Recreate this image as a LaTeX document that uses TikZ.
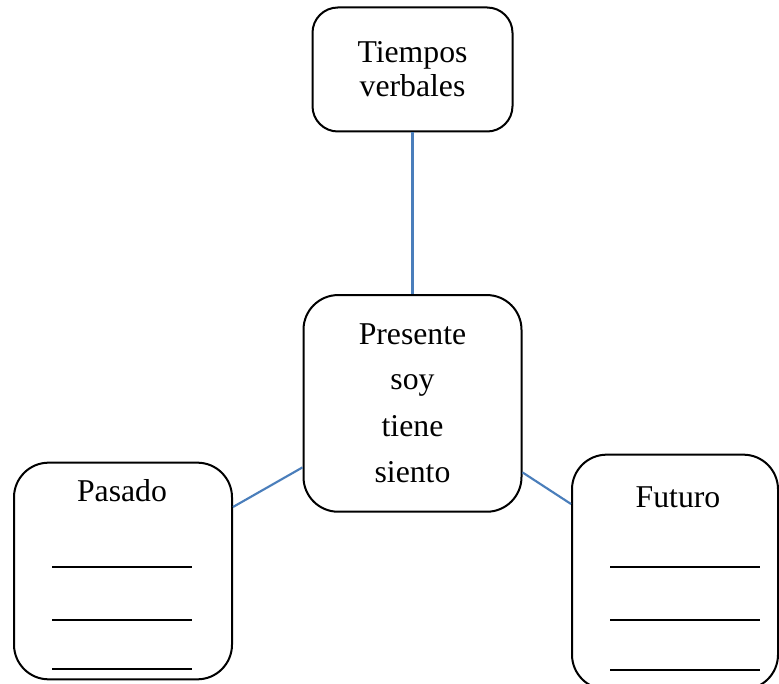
\documentclass[tikz,border=0pt]{standalone}
\usepackage{fontspec}
\setmainfont{Liberation Serif}
\usetikzlibrary{calc}
\definecolor{conn}{RGB}{74,126,187}
\begin{document}
\begin{tikzpicture}[x=0.75pt,y=-0.75pt,
  box/.style={draw=black,line width=1.5pt,fill=white,inner sep=0pt},
  txt/.style={anchor=base,inner sep=0pt,font=\fontsize{23.8}{28}\selectfont},
  link/.style={draw=conn,line width=1.6pt},
  blank/.style={draw=black,line width=1pt}]
\useasboundingbox (0,0) rectangle (779,684);
\clip (0,0) rectangle (779,684);
% boxes
\node[box,rounded corners=19pt,minimum width=150pt,minimum height=93pt] (top) at (412.5,69.5) {};
\node[box,rounded corners=26pt,minimum width=163.5pt,minimum height=162.5pt] (ctr) at (412.5,403.4) {};
\node[box,rounded corners=26pt,minimum width=163.5pt,minimum height=162.5pt] (lft) at (123,571) {};
\node[box,rounded corners=26pt,minimum width=154.5pt,minimum height=176pt] (rgt) at (675,572) {};
% connectors
\draw[link] (top.south) -- (ctr.north);
\draw[link] ($(lft.east)+(0,-64)$) -- ($(ctr.west)+(0,64)$);
\draw[link] ($(ctr.east)+(0,69)$) -- ($(rgt.west)+(0,-68)$);
% texts
\node[txt] (t1) at (412.5,63) {Tiempos};
\node[txt] (t2) at (412.5,97) {verbales};
\node[txt] (c1) at (412.5,345) {Presente};
\node[txt] (c2) at (412.5,390) {soy};
\node[txt] (c3) at (412.5,437) {tiene};
\node[txt] (c4) at (412.5,483) {siento};
\node[txt] (p1) at (122,501) {Pasado};
\node[txt] (f1) at (678,508) {Futuro};
% blanks
\foreach \y in {567,620,669} \draw[blank] (52,\y) -- (192,\y);
\foreach \y in {567,620,670} \draw[blank] (610,\y) -- (760,\y);
\end{tikzpicture}
\end{document}
